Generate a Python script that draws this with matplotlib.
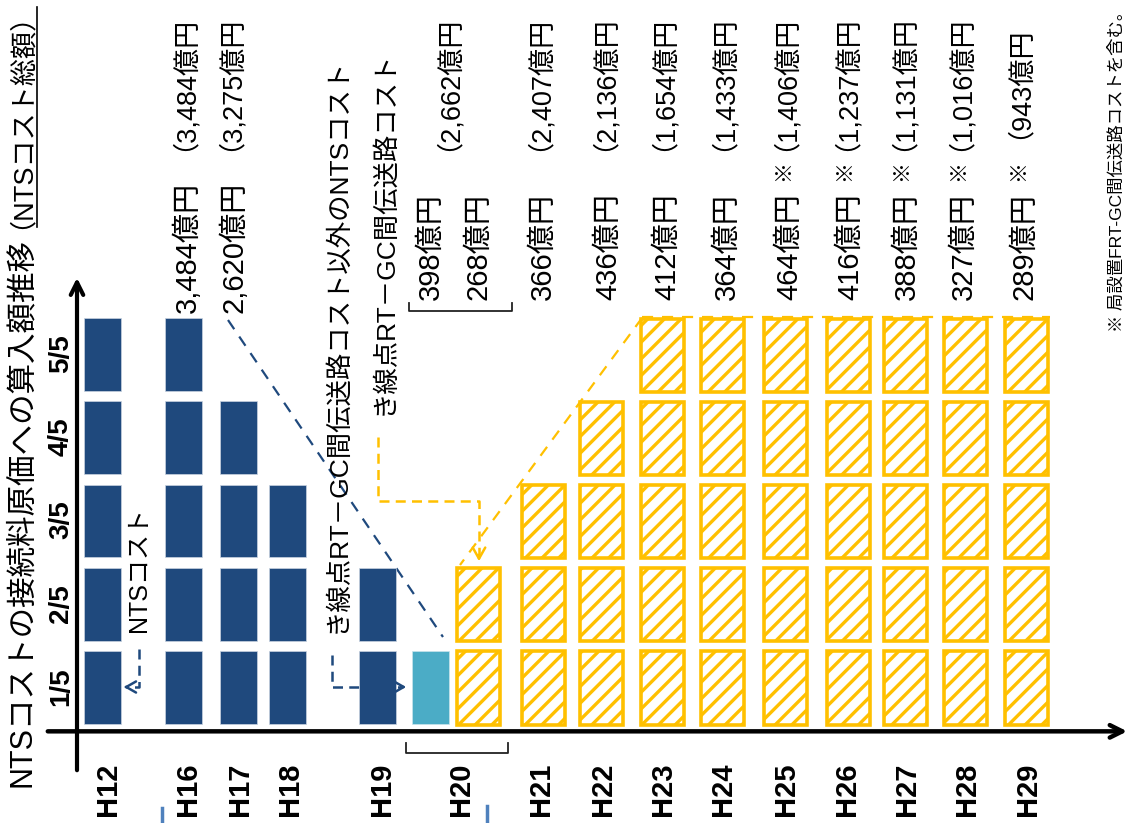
import matplotlib
matplotlib.use("Agg")
import matplotlib.pyplot as plt

plt.rcParams['font.family'] = ['Liberation Sans', 'Noto Sans CJK JP']
plt.rcParams['hatch.linewidth'] = 2.4
plt.rcParams['hatch.color'] = '#FFC000'

# data
years = ['H12', 'H16', 'H17', 'H18', 'H19', 'H20', 'H21', 'H22',
         'H23', 'H24', 'H25', 'H26', 'H27', 'H28', 'H29']
nts_fifths = [5, 5, 4, 3, 2, 0, 0, 0, 0, 0, 0, 0, 0, 0, 0]      # NTSコスト
other_fifths = [0, 0, 0, 0, 0, 1, 0, 0, 0, 0, 0, 0, 0, 0, 0]    # RT-GC以外
rtgc_fifths = [0, 0, 0, 0, 0, 2, 3, 4, 5, 5, 5, 5, 5, 5, 5]     # RT-GC間伝送路
included = [None, '3,484', '2,620', None, None, None, '366', '436',
            '412', '364', '464', '416', '388', '327', '289']
totals = [None, '3,484', '3,275', None, None, '2,662', '2,407', '2,136',
          '1,654', '1,433', '1,406', '1,237', '1,131', '1,016', '943']
frt_note = [False] * 10 + [True] * 5
h20_split = ['398', '268']
fractions = ['1/5', '2/5', '3/5', '4/5', '5/5']

# layout (x in pixels of the 1131 wide canvas, y in fifths)
bar_x = [102.5, 183.5, 238.5, 287.5, 377.5, 430.5, 543, 601.5,
         662, 722.5, 785.5, 848.5, 905.5, 965.5, 1026]
h20_hatch_x = 478.5
tick_x = [108, 188, 240, 290, 382, 461, 541, 603, 663, 723, 786, 847, 907, 967, 1028]
txt_x = [None, 188, 234.5, None, None, 452, 543, 608, 667, 727, 789, 850, 907, 964, 1024]
PAREN_SHIFT = 18   # strings that start with a full-width bracket render offset

NAVY = '#1F497D'
TEAL = '#4BACC6'
GOLD = '#FFC000'
PX = 83.2          # pixels per fifth


def Y(py):
    return (733 - py) / PX


fig = plt.figure(figsize=(11.31, 8.23), dpi=100)
ax = fig.add_axes([0, 0, 1, 1])
ax.set_xlim(0, 1131)
ax.set_ylim(Y(823), Y(0))
ax.axis('off')

# bars, one block per fifth
for i, yr in enumerate(years):
    for k in range(nts_fifths[i]):
        ax.bar(bar_x[i], 0.875, width=37, bottom=k + 0.11, color=NAVY,
               edgecolor='#C9D3E0', linewidth=0.5, zorder=3)
    for k in range(other_fifths[i]):
        ax.bar(bar_x[i], 0.875, width=37, bottom=k + 0.11, color=TEAL,
               edgecolor='#C9E4EC', linewidth=0.5, zorder=3)
    hx = h20_hatch_x if yr == 'H20' else bar_x[i]
    for k in range(rtgc_fifths[i]):
        ax.bar(hx, 0.88, width=43, bottom=k + 0.1, color='white',
               edgecolor=GOLD, hatch='//', linewidth=2.6, zorder=3)

# axes lines with arrows
ax.annotate('', xy=(1130, 0.02), xytext=(45, 0.02),
            arrowprops=dict(arrowstyle='->,head_length=0.9,head_width=0.45',
                            color='black', lw=3.2), zorder=4)
ax.annotate('', xy=(77, Y(275)), xytext=(77, Y(773)),
            arrowprops=dict(arrowstyle='->,head_length=0.9,head_width=0.45',
                            color='black', lw=3.0), zorder=4)

# tick labels
for i, yr in enumerate(years):
    ax.text(tick_x[i], Y(789), yr, rotation=90, ha='center', va='center',
            fontsize=21, fontweight='bold')
for k, f in enumerate(fractions):
    ax.text(61, k + 0.56, f, rotation=90, ha='center', va='center',
            fontsize=20, fontweight='bold')

# title
ax.text(22, Y(787), 'NTSコストの接続料原価への算入額推移', rotation=90,
        ha='center', va='bottom', fontsize=22)
ax.text(8, Y(229), '（NTSコスト総額）', rotation=90,
        ha='center', va='bottom', fontsize=19.5)
ax.plot([37, 37], [Y(7), Y(227)], color='black', lw=1.2)

# amounts
for i, yr in enumerate(years):
    if included[i]:
        ax.text(txt_x[i], Y(247), included[i] + '億円', rotation=90,
                ha='center', va='center', fontsize=21)
        if frt_note[i]:
            ax.text(txt_x[i] - 5, Y(181), '※', rotation=90, ha='center',
                    va='bottom', fontsize=15)
    if totals[i]:
        ax.text(txt_x[i] - PAREN_SHIFT, Y(76), '（' + totals[i] + '億円',
                rotation=90, ha='center', va='center', fontsize=19.5)
ax.text(431, Y(247), h20_split[0] + '億円', rotation=90, ha='center',
        va='center', fontsize=21)
ax.text(478, Y(247), h20_split[1] + '億円', rotation=90, ha='center',
        va='center', fontsize=21)

# brackets around H20
ax.plot([409, 409, 512, 512], [Y(303), Y(311), Y(311), Y(303)],
        color='#222222', lw=1.3)
ax.plot([406, 406, 508, 508], [Y(743), Y(753), Y(753), Y(743)],
        color='#222222', lw=1.3)

# callouts
ax.text(139, Y(632), 'NTSコスト', rotation=90, ha='center', va='bottom',
        fontsize=18)
ax.plot([139, 139, 126], [Y(649), Y(687), Y(687)], color=NAVY, lw=1.8,
        ls=(0, (4, 2.5)))
ax.annotate('', xy=(121, Y(687)), xytext=(130, Y(687)),
            arrowprops=dict(arrowstyle='->,head_length=0.7,head_width=0.4',
                            color=NAVY, lw=1.8))

ax.text(337, Y(633), 'き線点RT－GC間伝送路コスト以外のNTSコスト', rotation=90,
        ha='center', va='bottom', fontsize=19)
ax.plot([332, 332, 400], [Y(655), Y(687), Y(687)], color=NAVY, lw=1.8,
        ls=(0, (4, 2.5)))
ax.annotate('', xy=(409, Y(687)), xytext=(398, Y(687)),
            arrowprops=dict(arrowstyle='->,head_length=0.7,head_width=0.4',
                            color=NAVY, lw=1.8))

ax.text(384, Y(415), 'き線点RT－GC間伝送路コスト', rotation=90,
        ha='center', va='bottom', fontsize=19)
ax.plot([378, 378, 479, 479], [Y(437), Y(501), Y(501), Y(555)], color=GOLD,
        lw=1.8, ls=(0, (4, 2.5)))
ax.annotate('', xy=(479, Y(564)), xytext=(479, Y(552)),
            arrowprops=dict(arrowstyle='->,head_length=0.8,head_width=0.45',
                            color=GOLD, lw=1.8))

# guide lines
ax.plot([228, 443], [Y(320), Y(637)], color=NAVY, lw=1.6, ls=(0, (5, 4)), zorder=2)
ax.plot([642, 460], [Y(318), Y(565)], color=GOLD, lw=1.6, ls=(0, (5, 4)), zorder=2)
ax.plot([642, 1050], [Y(317), Y(317)], color=GOLD, lw=1.6, ls=(0, (5, 4)), zorder=2)

# clipped marks at the bottom edge
ax.plot([162, 162], [Y(808), Y(823)], color='#4F81BD', lw=2.5)
ax.plot([487, 487], [Y(806), Y(823)], color='#4F81BD', lw=2.5)

# footnote
ax.text(1117, Y(3), '※ 局設置FRT-GC間伝送路コストを含む。', rotation=90,
        ha='center', va='top', fontsize=12.5)

fig.savefig('out.png', dpi=100)
